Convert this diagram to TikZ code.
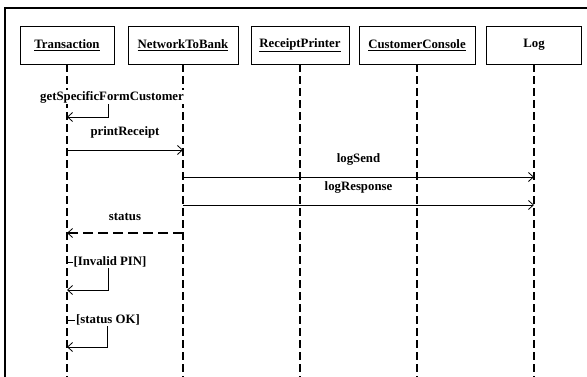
\documentclass[tikz,border=0pt]{standalone}
\usepackage{fontspec}
\setmainfont{Liberation Serif}
\usetikzlibrary{arrows.meta,calc}

\begin{document}
\begin{tikzpicture}[x=1pt,y=-1pt,
  >={Straight Barb[length=5pt,width=9pt,line width=0.8pt]},
  obj/.style={draw,line width=0.7pt,minimum height=38pt,inner sep=0pt,font=\bfseries\fontsize{12.8}{14}\selectfont},
  life/.style={line width=2.2pt,dash pattern=on 8pt off 4pt},
  msg/.style={->,line width=0.8pt},
  reply/.style={->,line width=2.2pt,dash pattern=on 10pt off 5pt},
  lbl/.style={font=\bfseries\fontsize{12.8}{14}\selectfont,inner sep=1pt}]
\useasboundingbox (0,0) rectangle (587,377);
\draw[line width=1.2pt] (5,377) -- (5,8) -- (587,8);

\node[obj,minimum width=94pt] (trans) at (67,45) {\underline{Transaction}};
\node[obj,minimum width=110pt] (net) at (183,45) {\underline{NetworkToBank}};
\node[obj,minimum width=98pt] (printer) at (300,45) {\underline{ReceiptPrinter}};
\node[obj,minimum width=116pt] (console) at (417,45) {\underline{CustomerConsole}};
\node[obj,minimum width=95pt] (log) at (534,45) {Log};

\foreach \o in {trans,net,printer,console,log}
  \draw[life] (\o.south) -- (\o.south |- 0,377);

% self call
\draw[msg] (trans |- 0,97) -| (108,117) -- (trans |- 0,117);
\node[lbl,fill=white] (getform) at (112,97) {getSpecificFormCustomer};

\draw[msg] (trans |- 0,150) -- node[lbl,midway,above=10pt] (print) {printReceipt} (net |- 0,150);
\draw[msg] (net |- 0,177) -- node[lbl,midway,above=10pt] (send) {logSend} (log |- 0,177);
\draw[msg] (net |- 0,205) -- node[lbl,midway,above=10pt] (resp) {logResponse} (log |- 0,205);
\draw[reply] (net |- 0,233) -- node[lbl,midway,above=10pt] (status) {status} (trans |- 0,233);

% guards
\draw[msg] (trans |- 0,262) -| (108,290) -- (trans |- 0,290);
\node[lbl,fill=white] (invalid) at (110,262) {[Invalid PIN]};
\draw[msg] (trans |- 0,320) -| (107,347) -- (trans |- 0,347);
\node[lbl,fill=white] (ok) at (108,320) {[status OK]};
\end{tikzpicture}
\end{document}
